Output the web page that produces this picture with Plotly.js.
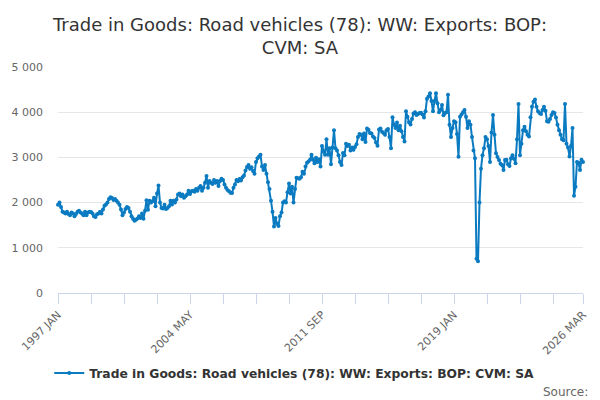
<!DOCTYPE html>
<html>
<head>
<meta charset="utf-8">
<script src="https://cdn.plot.ly/plotly-3.0.1.min.js"></script>
<style>
  html, body { margin: 0; padding: 0; background: #fff; }
  #chart { width: 600px; height: 400px; }
</style>
</head>
<body>
<div id="chart"></div>
<script>
// ── Data ────────────────────────────────────────────────────────────
const SERIES_NAME = "Trade in Goods: Road vehicles (78): WW: Exports: BOP: CVM: SA";
const YEARS = [1997, 2026];
const MONTHS = ["JAN", "FEB", "MAR", "APR", "MAY", "JUN", "JUL", "AUG", "SEP", "OCT", "NOV", "DEC"];
const LABELLED = ["1997 JAN", "2004 MAY", "2011 SEP", "2019 JAN", "2026 MAR"];
const Y_TICKS = [0, 1000, 2000, 3000, 4000, 5000];

// monthly values, 1997 JAN .. 2026 MAR (£ million)
const exportsValues = [
  1950, 2000, 1900, 1800, 1780, 1760, 1800, 1750, 1720, 1780,
  1760, 1700, 1750, 1800, 1820, 1780, 1760, 1720, 1800, 1720,
  1780, 1800, 1790, 1760, 1700, 1680, 1740, 1760, 1800, 1760,
  1850, 1930, 1960, 2000, 2080, 2120, 2100, 2060, 2080, 2040,
  2000, 1950, 1850, 1720, 1780, 1860, 1900, 1880, 1800, 1700,
  1640, 1600, 1620, 1650, 1700, 1660, 1760, 1640, 1820, 2050,
  1840, 2040, 2000, 2030, 2110, 1920, 2200, 2380, 2000, 1880,
  1870, 1950, 1860, 1880, 1920, 2040, 1960, 2040, 2000, 2070,
  2180, 2200, 2140, 2180, 2110, 2140, 2180, 2260, 2190, 2250,
  2260, 2240, 2300, 2260, 2330, 2370, 2260, 2330, 2440, 2590,
  2330, 2480, 2440, 2410, 2500, 2440, 2480, 2370, 2480, 2530,
  2500, 2400, 2330, 2280, 2250, 2220, 2210, 2330, 2400, 2500,
  2470, 2520, 2490, 2560, 2600, 2710, 2790, 2830, 2750, 2780,
  2700, 2640, 2900, 2980, 3020, 3060, 2800, 2720, 2830, 2640,
  2450, 2300, 2040, 1800, 1470, 1660, 1530, 1480, 1700, 1780,
  2000, 2030, 2000, 2230, 2420, 2200, 2350, 2000, 2300, 2550,
  2540, 2530, 2560, 2680, 2640, 2800, 2880, 2910, 2950, 3060,
  2950, 2870, 2990, 2900, 2960, 2800, 3250, 3130, 3060, 3400,
  3060, 3200, 2850, 3220, 3600, 3200, 3150, 3050, 2900, 2830,
  3100, 3050, 3300, 3250, 3280, 3150, 3220, 3170, 3230, 3290,
  3450, 3520, 3500, 3400, 3530, 3340, 3640, 3610, 3540, 3530,
  3460, 3430, 3330, 3260, 3620, 3640, 3570, 3540, 3500, 3600,
  3630, 3450, 3200, 3890, 3720, 3650, 3770, 3600, 3700, 3580,
  3450, 3350, 4020, 3900, 3780, 3730, 3850, 3970, 4000, 3940,
  3960, 3980, 3990, 3950, 3880, 4020, 4300, 4350, 4420, 4250,
  4020, 4250, 4420, 4200, 4000, 4050, 4160, 3930, 3980, 4000,
  4385, 3720, 3450, 3650, 3800, 3780, 3520, 3015, 3900, 3950,
  4000, 4050, 3900, 3650, 3800, 3720, 3450, 3150, 2980, 760,
  700, 2000, 2750, 3050, 3200, 3450, 3400, 3250, 2900, 3550,
  3940, 3500, 3090, 3010, 2940, 2860, 2830, 2720, 2940, 2950,
  2850, 2810, 2980, 3050, 2970, 2870, 3400, 4180, 3050, 3300,
  3600, 3680, 3580, 3500, 3460, 3890, 4120, 4230, 4280, 4120,
  4020, 3980, 3960, 4050, 4120, 4030, 3800, 3790, 3850, 3940,
  4000, 3980, 3880, 3720, 3600, 3500, 3400, 3380, 4180, 3300,
  3220, 3020, 3250, 3650, 2150, 2350, 2900, 2880, 2720, 2950,
  2900,
];

// ── Category labels ─────────────────────────────────────────────────
const periods = [];
for (let y = YEARS[0]; y <= YEARS[1]; y++) {
  for (const m of MONTHS) periods.push(`${y} ${m}`);
}
periods.length = exportsValues.length;

// a tick every 22 months plus the last one, text only on the labelled ones
const tickIdx = [];
for (let i = 0; i < periods.length - 1; i += 22) tickIdx.push(i);
tickIdx.push(periods.length - 1);
const tickvals = tickIdx.map(i => periods[i]);
const ticktext = tickvals.map(p => LABELLED.includes(p) ? p : "");

const FONT = "DejaVu Sans, Verdana, sans-serif";
const LINE = "#0b7bc1";

const traces = [{
  x: periods,
  y: exportsValues,
  type: "scatter",
  mode: "lines+markers",
  name: SERIES_NAME,
  line: { color: LINE, width: 2 },
  marker: { color: LINE, size: 4 },
  cliponaxis: false,
}];

const layout = {
  width: 600,
  height: 400,
  separators: ". ",
  font: { family: FONT, color: "#666" },
  title: {
    text: "Trade in Goods: Road vehicles (78): WW: Exports: BOP:<br>CVM: SA",
    font: { family: FONT, size: 18, color: "#333" },
    x: 0.5, xanchor: "center",
    y: 0.9225, yref: "container", yanchor: "middle",
  },
  margin: { l: 57.5, r: 17, t: 67, b: 107 },
  xaxis: {
    type: "category",
    range: [0, periods.length - 1],
    tickvals, ticktext,
    tickangle: -45,
    ticks: "outside", ticklen: 10, tickwidth: 1, tickcolor: "#ccd6eb",
    showline: true, linecolor: "#ccd6eb", linewidth: 1,
    showgrid: false, zeroline: false,
    tickfont: { family: FONT, size: 11, color: "#666" },
  },
  yaxis: {
    range: [0, 5000],
    tickvals: Y_TICKS,
    tickformat: ",d",
    gridcolor: "#e6e6e6", gridwidth: 1,
    zeroline: false, showline: false,
    ticklabelstandoff: 14,
    tickfont: { family: FONT, size: 11, color: "#666" },
  },
  showlegend: true,
  legend: {
    orientation: "h",
    x: 0.45, xanchor: "center",
    y: -0.354, yanchor: "middle",
    font: { family: FONT, size: 12.3, color: "#333", weight: "bold" },
    itemwidth: 30,
  },
  annotations: [{
    text: "Source:",
    xref: "paper", yref: "paper",
    x: 1.014, xanchor: "right",
    y: -0.437, yanchor: "middle",
    showarrow: false,
    font: { family: FONT, size: 12, color: "#666" },
  }],
  plot_bgcolor: "#fff",
  paper_bgcolor: "#fff",
};

Plotly.newPlot("chart", traces, layout, { displayModeBar: false, staticPlot: true });
</script>
</body>
</html>
